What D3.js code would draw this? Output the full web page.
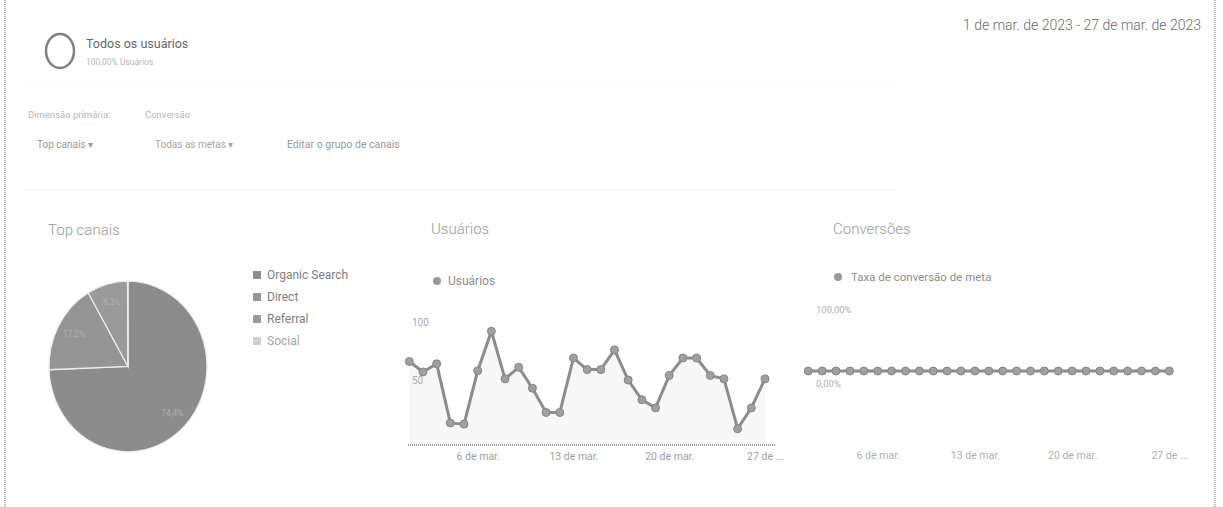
<!DOCTYPE html>
<html><head><meta charset="utf-8">
<script src="https://cdn.jsdelivr.net/npm/d3@7"></script>
<style>
html,body{margin:0;padding:0;background:#fff;}
svg{display:block;font-family:Roboto,"Noto Sans",Arial,sans-serif;}
</style></head>
<body>
<svg id="c" width="1223" height="507"></svg>
<script>
// ---------- DATA ----------
const days = d3.range(1, 28); // 1..27 de março de 2023
const usuarios = [72,63,70,19,18,64,98,57,67,49,28,28,75,65,65,82,56,39,32,60,75,75,60,57,14,32,57];
const conversao = days.map(() => 0); // taxa de conversão de meta (%)
const canais = ["Organic Search","Direct","Referral","Social"];
const canaisValores = [74.4, 17.2, 8.3, 0.1];
const canaisRotulos = ["74,4%","17,2%","8,3%",""];
const tickDias = [6, 13, 20, 27];
const tickRotulos = ["6 de mar.","13 de mar.","20 de mar.","27 de ..."];
const usuariosTicks = [100, 50];
const conversaoTicks = [100, 0];
const conversaoRotulos = ["100,00%","0,00%"];

// ---------- DRAW ----------
const svg = d3.select("#c");

// borders
svg.append("line").attr("x1",5).attr("x2",5).attr("y1",0).attr("y2",507)
  .attr("stroke","#8a8a8a").attr("stroke-width",1.2).attr("stroke-dasharray","1,1");
svg.append("line").attr("x1",1215).attr("x2",1215).attr("y1",0).attr("y2",507)
  .attr("stroke","#8a8a8a").attr("stroke-width",1.2).attr("stroke-dasharray","1,1");
[85,190].forEach(y=>svg.append("line").attr("x1",20).attr("x2",900).attr("y1",y).attr("y2",y)
  .attr("stroke","#f7f7f7").attr("stroke-width",1));

// header
svg.append("ellipse").attr("cx",60).attr("cy",51).attr("rx",14).attr("ry",17)
  .attr("fill","none").attr("stroke","#808080").attr("stroke-width",2.5);
svg.append("text").attr("x",86).attr("y",48).attr("font-size",12.5).attr("fill","#666").text("Todos os usuários");
svg.append("text").attr("x",86).attr("y",65).attr("font-size",8.5).attr("fill","#b5b5b5").text("100,00% Usuários");
svg.append("text").attr("x",1201).attr("y",30).attr("text-anchor","end").attr("font-size",14).attr("fill","#6a6a6a")
  .attr("font-weight",300).text("1 de mar. de 2023 - 27 de mar. de 2023");
svg.append("text").attr("x",28).attr("y",118).attr("font-size",9.5).attr("fill","#b5b5b5").text("Dimensão primária:");
svg.append("text").attr("x",145).attr("y",118).attr("font-size",9.5).attr("fill","#b5b5b5").text("Conversão");
svg.append("text").attr("x",37).attr("y",148).attr("font-size",10).attr("fill","#999").text("Top canais   ▾");
svg.append("text").attr("x",155).attr("y",148).attr("font-size",10).attr("fill","#a5a5a5").text("Todas as metas   ▾");
svg.append("text").attr("x",287).attr("y",148).attr("font-size",10.5).attr("fill","#999").text("Editar o grupo de canais");

// ---------- PIE ----------
svg.append("text").attr("x",48).attr("y",235).attr("font-size",15).attr("font-weight",300).attr("fill","#999").text("Top canais");
const pieColors = ["#8c8c8c","#959595","#9a9a9a","#d0d0d0"];
const pie = d3.pie().sort(null).value(d=>d)(canaisValores);
const R = 79;
const arc = d3.arc().innerRadius(0).outerRadius(R);
const labelArc = d3.arc().innerRadius(R*0.78).outerRadius(R*0.78);
const pg = svg.append("g").attr("transform","translate(128,366.5) scale(1,1.08)");
pg.selectAll("path").data(pie).join("path").attr("d",arc)
  .attr("fill",(d,i)=>pieColors[i]).attr("stroke","#efefef").attr("stroke-width",1.2);
pg.selectAll("text").data(pie).join("text")
  .attr("transform",d=>{const c=labelArc.centroid(d);return `translate(${c[0]},${c[1]}) scale(1,${1/1.08})`;})
  .attr("text-anchor","middle").attr("dy","0.35em").attr("font-size",8.5).attr("fill","#b0b0b0")
  .text((d,i)=>canaisRotulos[i]);
const lg = svg.append("g");
canais.forEach((c,i)=>{
  const y = 275 + i*22;
  lg.append("rect").attr("x",253).attr("y",y-4).attr("width",8).attr("height",8).attr("fill",pieColors[i]);
  lg.append("text").attr("x",267).attr("y",y).attr("dy","0.35em").attr("font-size",12)
    .attr("fill", i===3 ? "#a5a5a5" : "#7d7d7d").text(c);
});

// ---------- USUÁRIOS ----------
svg.append("text").attr("x",431).attr("y",234).attr("font-size",15).attr("font-weight",300).attr("fill","#999").text("Usuários");
svg.append("circle").attr("cx",437).attr("cy",281).attr("r",4).attr("fill","#999");
svg.append("text").attr("x",448).attr("y",281).attr("dy","0.35em").attr("font-size",12).attr("fill","#8d8d8d").text("Usuários");

const xU = d3.scaleLinear().domain([1,27]).range([409.3,765]);
const yU = d3.scaleLinear().domain([0,100]).range([445,329]);
const ug = svg.append("g");
ug.append("path").datum(usuarios)
  .attr("d", d3.area().x((d,i)=>xU(days[i])).y0(yU(0)).y1(d=>yU(d)))
  .attr("fill","#f7f7f7");
ug.append("line").attr("x1",408).attr("x2",775).attr("y1",yU(0)).attr("y2",yU(0))
  .attr("stroke","#7a7a7a").attr("stroke-width",1.3).attr("stroke-dasharray","1,1");
usuariosTicks.forEach(t=>ug.append("text").attr("x",412).attr("y",yU(t)-3).attr("font-size",10)
  .attr("fill","#aaa").text(t));
ug.append("path").datum(usuarios)
  .attr("d", d3.line().x((d,i)=>xU(days[i])).y(d=>yU(d)))
  .attr("fill","none").attr("stroke","#8c8c8c").attr("stroke-width",3);
ug.selectAll("circle").data(usuarios).join("circle")
  .attr("cx",(d,i)=>xU(days[i])).attr("cy",d=>yU(d)).attr("r",4)
  .attr("fill","#a0a0a0").attr("stroke","#858585").attr("stroke-width",1);
const axU = ug.append("g").attr("transform",`translate(0,${yU(0)})`)
  .call(d3.axisBottom(xU).tickValues(tickDias).tickSize(0).tickFormat((d,i)=>tickRotulos[i]));
axU.select(".domain").remove();
axU.selectAll("text").attr("dy","1.1em").attr("font-size",10.5).attr("fill","#a0a0a0")
  .attr("font-family","Roboto,sans-serif");

// ---------- CONVERSÕES ----------
svg.append("text").attr("x",833).attr("y",234).attr("font-size",15).attr("font-weight",300).attr("fill","#999").text("Conversões");
svg.append("circle").attr("cx",838).attr("cy",277).attr("r",4).attr("fill","#999");
svg.append("text").attr("x",851).attr("y",277).attr("dy","0.35em").attr("font-size",11.5).attr("fill","#8d8d8d")
  .text("Taxa de conversão de meta");

const xC = d3.scaleLinear().domain([1,27]).range([808.3,1169.3]);
const yC = d3.scaleLinear().domain([0,100]).range([371,316]);
const cg = svg.append("g");
conversaoTicks.forEach((t,i)=>cg.append("text").attr("x",816)
  .attr("y", t===0 ? yC(t)+16 : yC(t)-3).attr("font-size",9.5).attr("fill","#b0b0b0").text(conversaoRotulos[i]));
cg.append("path").datum(conversao)
  .attr("d", d3.line().x((d,i)=>xC(days[i])).y(d=>yC(d)))
  .attr("fill","none").attr("stroke","#8c8c8c").attr("stroke-width",3);
cg.selectAll("circle").data(conversao).join("circle")
  .attr("cx",(d,i)=>xC(days[i])).attr("cy",d=>yC(d)).attr("r",4)
  .attr("fill","#a0a0a0").attr("stroke","#858585").attr("stroke-width",1);
const axC = cg.append("g").attr("transform","translate(0,445)")
  .call(d3.axisBottom(xC).tickValues(tickDias).tickSize(0).tickFormat((d,i)=>tickRotulos[i]));
axC.select(".domain").remove();
axC.selectAll("text").attr("dy","1.0em").attr("font-size",10.5).attr("fill","#b0b0b0")
  .attr("font-family","Roboto,sans-serif");
</script>
</body></html>
